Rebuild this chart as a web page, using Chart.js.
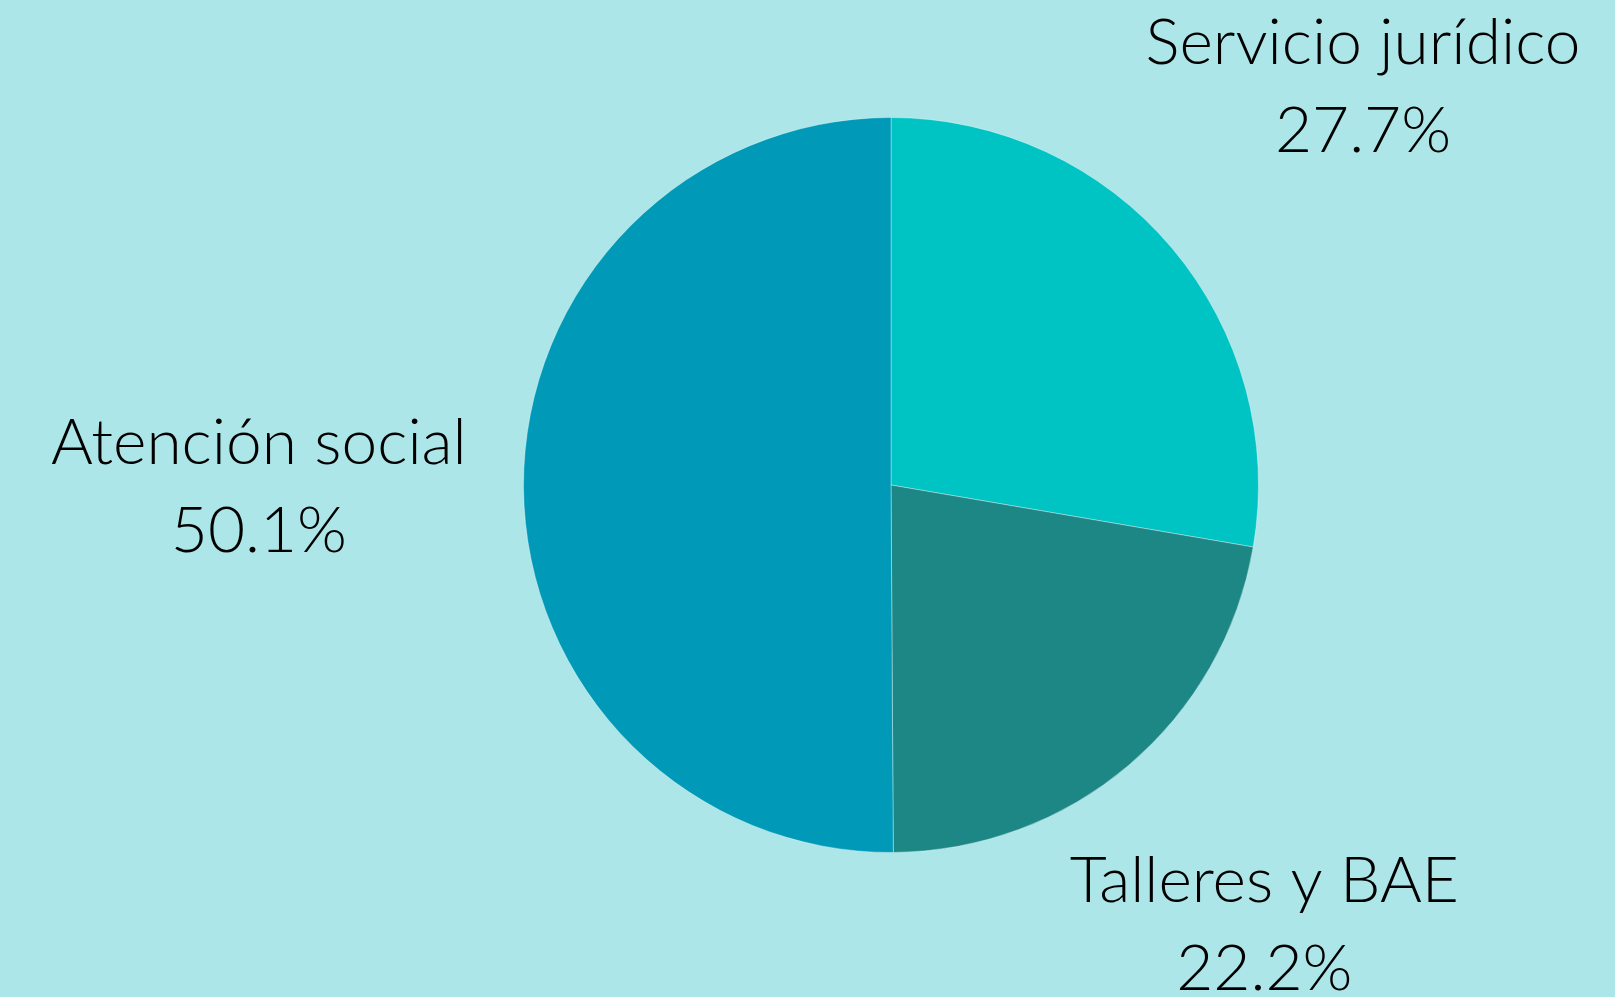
<!DOCTYPE html>
<html><head><meta charset="utf-8">
<script src="https://cdn.jsdelivr.net/npm/chart.js@4"></script>
<style>html,body{margin:0;padding:0;background:#ADE6E8;}canvas{display:block;}</style>
</head><body>
<canvas id="c" width="1615" height="997"></canvas>
<script>
const categories = ["Servicio jurídico", "Talleres y BAE", "Atención social"];
const values = [27.7, 22.2, 50.1];
const valueLabels = ["27.7%", "22.2%", "50.1%"];
const colors = ["#00C4C4", "#1C8785", "#009AB8"];
const labelDistance = [1.68, 1.57, 1.72];

const outsideLabels = {
  id: 'outsideLabels',
  afterDatasetsDraw(chart) {
    const ctx = chart.ctx;
    const meta = chart.getDatasetMeta(0);
    ctx.save();
    ctx.fillStyle = '#000';
    ctx.textAlign = 'center';
    ctx.textBaseline = 'middle';
    ctx.font = '300 64px Lato, "Open Sans", sans-serif';
    meta.data.forEach((arc, i) => {
      const p = arc.getProps(['x','y','startAngle','endAngle','outerRadius'], true);
      const mid = (p.startAngle + p.endAngle) / 2;
      const d = p.outerRadius * labelDistance[i];
      const cx = p.x + Math.cos(mid) * d;
      const cy = p.y + Math.sin(mid) * d;
      ctx.fillText(categories[i], cx, cy - 44);
      ctx.fillText(valueLabels[i], cx, cy + 44);
    });
    ctx.restore();
  }
};

new Chart(document.getElementById('c'), {
  type: 'pie',
  data: {
    labels: categories,
    datasets: [{
      data: values,
      backgroundColor: colors,
      borderColor: 'rgba(255,255,255,0.35)',
      borderWidth: 1
    }]
  },
  options: {
    responsive: false,
    animation: false,
    devicePixelRatio: 1,
    layout: { padding: { top: 117, bottom: 144, left: 300, right: 133 } },
    plugins: { legend: { display: false }, tooltip: { enabled: false } }
  },
  plugins: [outsideLabels]
});
</script>
</body></html>
